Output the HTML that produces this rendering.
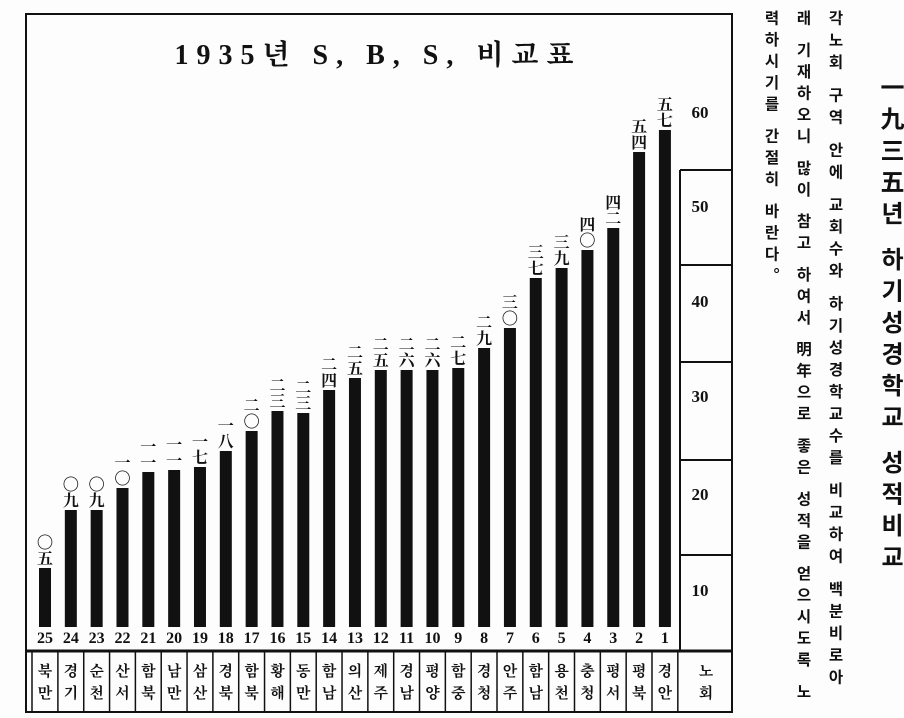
<!DOCTYPE html>
<html><head><meta charset="utf-8"><style>
body{margin:0;background:#fff}
svg text{font-family:"Liberation Serif","Noto Serif CJK SC","Noto Sans CJK KR",serif;fill:#111}
.v{writing-mode:vertical-rl;position:absolute;font-family:"Liberation Sans","Noto Sans CJK KR",sans-serif;color:#111;white-space:nowrap}
</style></head><body>
<div style="position:relative;width:904px;height:718px;overflow:hidden;background:#fdfdfd">
<svg width="904" height="718" style="position:absolute;left:0;top:0">
<rect x="26" y="14" width="706" height="698" fill="none" stroke="#111" stroke-width="2"/>
<line x1="26" y1="651" x2="732" y2="651" stroke="#111" stroke-width="3"/>
<line x1="680" y1="170" x2="680" y2="651" stroke="#111" stroke-width="2"/>
<g stroke="#111" stroke-width="2">
<line x1="680" y1="170" x2="732" y2="170"/><line x1="680" y1="265" x2="732" y2="265"/>
<line x1="680" y1="362" x2="732" y2="362"/><line x1="680" y1="460" x2="732" y2="460"/>
<line x1="680" y1="555" x2="732" y2="555"/>
</g>
<g font-size="17" font-weight="bold" text-anchor="middle">
<text x="700" y="118">60</text><text x="700" y="212">50</text><text x="700" y="307">40</text>
<text x="700" y="402">30</text><text x="700" y="500">20</text><text x="700" y="596">10</text>
</g>
<text x="378" y="64" font-size="28" font-weight="bold" text-anchor="middle" letter-spacing="8">1935년 S, B, S, 비교표</text>
<g id="bars"></g>
</svg>
<div class="v" style="left:872px;top:75px;font-size:24px;font-weight:bold;letter-spacing:7.5px">一九三五년 하기성경학교 성적비교</div>
<div class="v" style="left:823px;top:10px;font-size:15.5px;font-weight:bold;letter-spacing:6.5px">각노회 구역 안에 교회수와 하기성경학교수를 비교하여 백분비로아</div>
<div class="v" style="left:791px;top:10px;font-size:15.5px;font-weight:bold;letter-spacing:6px">래 기재하오니 많이 참고 하여서 明年으로 좋은 성적을 얻으시도록 노</div>
<div class="v" style="left:759px;top:10px;font-size:15.5px;font-weight:bold;letter-spacing:6px">력하시기를 간절히 바란다。</div>
</div>
<script>
(function(){
var tops=[130,152,228,250,268,278,328,348,368,370,370,370,378,390,413,411,431,451,467,470,472,488,510,510,568];
var labs=["五七","五四","四二","四〇","三九","三七","三〇","二九","二七","二六","二六","二五","二五","二四","二三","二三","二〇","一八","一七","一一","一一","一〇","〇九","〇九","〇五"];
var regs=["경안","평북","평서","충청","용천","함남","안주","경청","함중","평양","경남","제주","의산","함남","동만","황해","함북","경북","삼산","남만","함북","산서","순천","경기","북만"];
var g=document.getElementById('bars'),h='';
for(var r=1;r<=25;r++){
 var cx=45+(25-r)*25.83,ty=tops[r-1];
 h+='<rect x="'+(cx-6)+'" y="'+ty+'" width="12" height="'+(627-ty)+'" fill="#111"/>';
 var l=labs[r-1];
 h+='<text x="'+cx+'" y="'+(ty-20)+'" font-size="16" font-weight="bold" text-anchor="middle">'+l[0]+'</text>';
 h+='<text x="'+cx+'" y="'+(ty-4)+'" font-size="16" font-weight="bold" text-anchor="middle">'+l[1]+'</text>';
 h+='<text x="'+cx+'" y="643" font-size="16" font-weight="bold" text-anchor="middle">'+r+'</text>';
 var rg=regs[r-1];
 h+='<text x="'+cx+'" y="676" font-size="15" font-weight="bold" text-anchor="middle">'+rg[0]+'</text>';
 h+='<text x="'+cx+'" y="698" font-size="15" font-weight="bold" text-anchor="middle">'+rg[1]+'</text>';
 var bx=cx+12.9;
 h+='<line x1="'+bx+'" y1="651" x2="'+bx+'" y2="712" stroke="#111" stroke-width="1.5"/>';
}
h+='<line x1="32" y1="651" x2="32" y2="712" stroke="#111" stroke-width="1.5"/>';
h+='<text x="706" y="676" font-size="15" font-weight="bold" text-anchor="middle">노</text><text x="706" y="698" font-size="15" font-weight="bold" text-anchor="middle">회</text>';
g.innerHTML=h;
})();
</script>
</body></html>
